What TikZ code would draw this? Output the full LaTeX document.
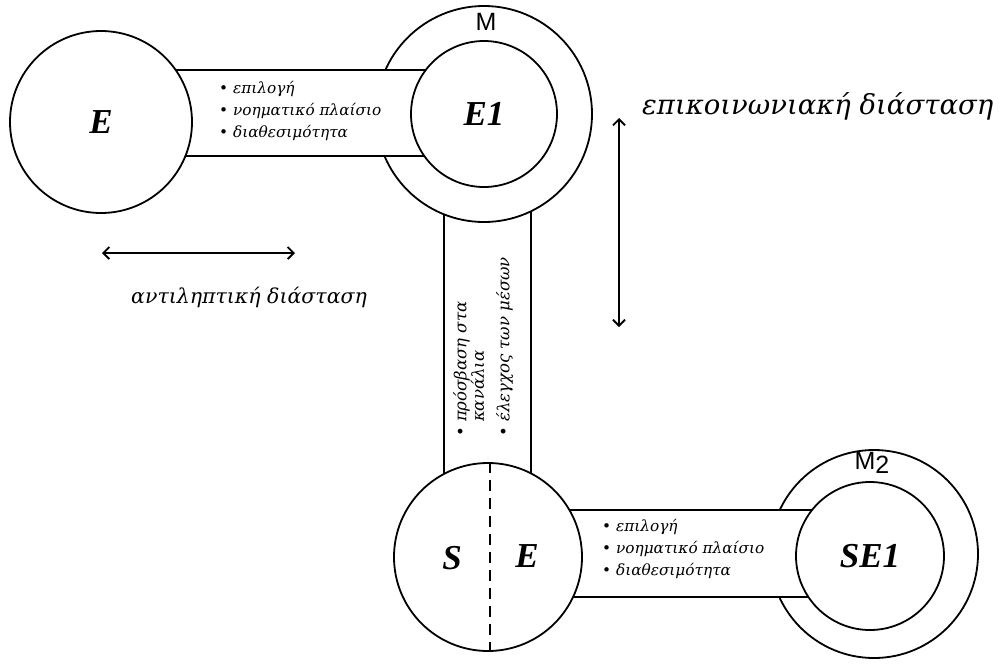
\documentclass[tikz,border=0pt]{standalone}
\usepackage{fontspec}
\setmainfont{DejaVu Serif}
\newfontfamily\labfont{Liberation Serif}
\newfontfamily\msans{Liberation Sans}
\usetikzlibrary{arrows.meta,calc}
\begin{document}
\begin{tikzpicture}[x=1pt,y=-1pt,
 ln/.style={line width=1.8pt},
 disc/.style={circle, draw, ln, fill=white, inner sep=0pt, minimum size=#1},
 band/.style={draw, ln, fill=white},
 lbl/.style={font=\labfont\fontsize{35}{36}\selectfont\bfseries\itshape},
 small/.style={font=\fontsize{15.3}{22}\selectfont\itshape, align=left, inner sep=0pt},
 vsmall/.style={font=\fontsize{16.5}{17.5}\selectfont\itshape, align=left, inner sep=0pt},
 dim/.style={font=\fontsize{#1}{#1}\selectfont\itshape, inner sep=0pt},
 mlab/.style={font=\msans\fontsize{25}{25}\selectfont, inner sep=0pt},
 arr/.style={line width=1.8pt, {Straight Barb[length=6pt,width=12pt]}-{Straight Barb[length=6pt,width=12pt]}},
]
\path[use as bounding box] (0,0) rectangle (1002,665);
\coordinate (cE) at (101,122);
\coordinate (cE1) at (484,114);
\coordinate (cSE) at (488,557);
\coordinate (cSE1) at (870,556);
\coordinate (cM2) at (874,554);
% vertical band
\path[band] ($(cE1)+(-40,60)$) rectangle ($(cSE)+(43,-40)$);
\node[disc=216] (M) at (cE1) {};
\node[disc=208] (M2) at (cM2) {};
\path[band] ($(cE)+(60,-52)$) rectangle ($(cE1)+(-40,42)$);
\path[band] ($(cSE)+(60,-47)$) rectangle ($(cSE1)+(-40,41)$);
\node[disc=182, lbl] (E) at (cE) {E};
\node[disc=146, lbl] (E1) at (cE1) {E1};
\node[disc=188] (SE) at (cSE) {};
\node[disc=148, lbl] (SE1) at (cSE1) {SE1};
\draw[ln, dash pattern=on 11pt off 7pt] ($(SE.north)+(2,0)$) -- ($(SE.south)+(2,0)$);
\node[lbl] (S) at (452,558) {S};
\node[lbl] (Eb) at (527,556) {E};
\node[mlab] (ml) at (486,22) {M};
\node[mlab] (ml2) at (872,463) {M\raisebox{-0.3ex}{2}};
% arrows
\coordinate (h1) at (102,253);
\coordinate (h2) at (295,253);
\draw[arr] (h1) -- (h2);
\coordinate (v1) at (619,118);
\coordinate (v2) at (619,327);
\draw[arr] (v1) -- (v2);
\node[dim=27.5, anchor=west] (d1) at (642,106) {επικοινωνιακή διάσταση};
\node[dim=20.5, anchor=west] (d2) at (131,297) {αντιληπτική διάσταση};
% texts
\node[small, anchor=north west] (t1) at (219,81) {• επιλογή\\• νοηματικό πλαίσιο\\• διαθεσιμότητα};
\node[small, anchor=north west] (t2) at (602,519) {• επιλογή\\• νοηματικό πλαίσιο\\• διαθεσιμότητα};
\node[vsmall, rotate=90, anchor=north west] (tv) at (453,437) {• πρόσβαση στα\\\phantom{• }κανάλια\\[8pt]• έλεγχος των μέσων};
\end{tikzpicture}
\end{document}
